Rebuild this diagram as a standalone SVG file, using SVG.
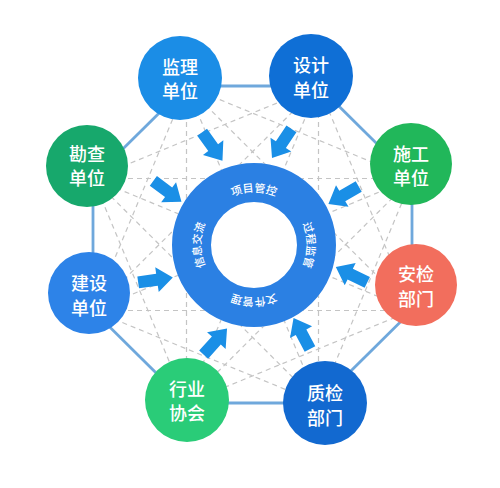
<svg xmlns="http://www.w3.org/2000/svg" width="500" height="488" viewBox="0 0 500 488">
<defs>
<style>
.dash{stroke:#c4c4c4;stroke-width:1.2;stroke-dasharray:5 4;fill:none}
.oct{stroke:#6fa8dc;stroke-width:2.8;fill:none}
.arr{fill:#1a8fe6}
.nt{font-family:"Noto Sans CJK SC","Noto Sans",sans-serif;font-size:18px;fill:#fff;text-anchor:middle;dominant-baseline:central;font-weight:500}
.rt{font-family:"Noto Sans CJK SC","Noto Sans",sans-serif;font-size:11px;fill:#fff;text-anchor:middle;font-weight:500}
</style>
<path id="arrow" d="M-17,-6 L2,-6 L2,-12.5 L18,0 L2,12.5 L2,6 L-17,6 Z"/>
<path id="ringPath" d="M216.5,282.5 A53 53 0 1 1 291.5,207.5 A53 53 0 1 1 216.5,282.5"/>
</defs>
<rect width="500" height="488" fill="#fff"/>
<g id="connectors">
<g id="dashed">
<line class="dash" x1="186.5" y1="86" x2="412" y2="178.5"/>
<line class="dash" x1="186.5" y1="86" x2="412" y2="310.5"/>
<line class="dash" x1="186.5" y1="86" x2="318.5" y2="403"/>
<line class="dash" x1="186.5" y1="86" x2="186.5" y2="403"/>
<line class="dash" x1="186.5" y1="86" x2="93" y2="310.5"/>
<line class="dash" x1="318.5" y1="86" x2="412" y2="310.5"/>
<line class="dash" x1="318.5" y1="86" x2="318.5" y2="403"/>
<line class="dash" x1="318.5" y1="86" x2="186.5" y2="403"/>
<line class="dash" x1="318.5" y1="86" x2="93" y2="310.5"/>
<line class="dash" x1="318.5" y1="86" x2="93" y2="178.5"/>
<line class="dash" x1="412" y1="178.5" x2="318.5" y2="403"/>
<line class="dash" x1="412" y1="178.5" x2="186.5" y2="403"/>
<line class="dash" x1="412" y1="178.5" x2="93" y2="310.5"/>
<line class="dash" x1="412" y1="178.5" x2="93" y2="178.5"/>
<line class="dash" x1="412" y1="310.5" x2="186.5" y2="403"/>
<line class="dash" x1="412" y1="310.5" x2="93" y2="310.5"/>
<line class="dash" x1="412" y1="310.5" x2="93" y2="178.5"/>
<line class="dash" x1="318.5" y1="403" x2="93" y2="310.5"/>
<line class="dash" x1="318.5" y1="403" x2="93" y2="178.5"/>
<line class="dash" x1="186.5" y1="403" x2="93" y2="178.5"/>
</g>
<polygon id="octagon" class="oct" points="186.5,86 318.5,86 412,178.5 412,310.5 318.5,403 186.5,403 93,310.5 93,178.5"/>
<g id="arrows" class="arr">
<use href="#arrow" transform="translate(212,146) rotate(54.5)"/>
<use href="#arrow" transform="translate(282,143) rotate(123.7)"/>
<use href="#arrow" transform="translate(167,191) rotate(36.6)"/>
<use href="#arrow" transform="translate(344,195) rotate(150)"/>
<use href="#arrow" transform="translate(155,280) rotate(-8)"/>
<use href="#arrow" transform="translate(352,275) rotate(-154)"/>
<use href="#arrow" transform="translate(215,342) rotate(-48)"/>
<use href="#arrow" transform="translate(302,334) rotate(-118)"/>
</g>
</g>
<g id="center">
<circle cx="254" cy="245" r="82" fill="#fff"/>
<circle cx="254" cy="245" r="62.5" fill="none" stroke="#2b80e3" stroke-width="39"/>
<text class="rt"><textPath href="#ringPath" startOffset="12.5%">信息交流</textPath></text>
<text class="rt"><textPath href="#ringPath" startOffset="37.5%">项目管控</textPath></text>
<text class="rt"><textPath href="#ringPath" startOffset="62.5%">过程监管</textPath></text>
<text class="rt"><textPath href="#ringPath" startOffset="87.5%">文件管理</textPath></text>
</g>
<g id="n-jianli"><circle cx="180" cy="78" r="42" fill="#1b8de6"/><text class="nt" x="180" y="66">监理</text><text class="nt" x="180" y="90">单位</text></g>
<g id="n-sheji"><circle cx="311" cy="76" r="42" fill="#0f6fd6"/><text class="nt" x="311" y="64">设计</text><text class="nt" x="311" y="89">单位</text></g>
<g id="n-kancha"><circle cx="87" cy="166" r="41" fill="#17a86c"/><text class="nt" x="87" y="153">勘查</text><text class="nt" x="87" y="177">单位</text></g>
<g id="n-shigong"><circle cx="411" cy="164" r="41" fill="#21b75a"/><text class="nt" x="411" y="153">施工</text><text class="nt" x="411" y="177">单位</text></g>
<g id="n-anjian"><circle cx="416" cy="285" r="41" fill="#f26e5d"/><text class="nt" x="416" y="273">安检</text><text class="nt" x="416" y="298">部门</text></g>
<g id="n-jianshe"><circle cx="89" cy="293" r="41" fill="#2d83e8"/><text class="nt" x="89" y="282">建设</text><text class="nt" x="89" y="307">单位</text></g>
<g id="n-hangye"><circle cx="187" cy="400" r="42" fill="#2acc78"/><text class="nt" x="187" y="388">行业</text><text class="nt" x="187" y="412">协会</text></g>
<g id="n-zhijian"><circle cx="325" cy="403" r="42" fill="#1269d0"/><text class="nt" x="325" y="392">质检</text><text class="nt" x="325" y="417">部门</text></g>
</svg>
